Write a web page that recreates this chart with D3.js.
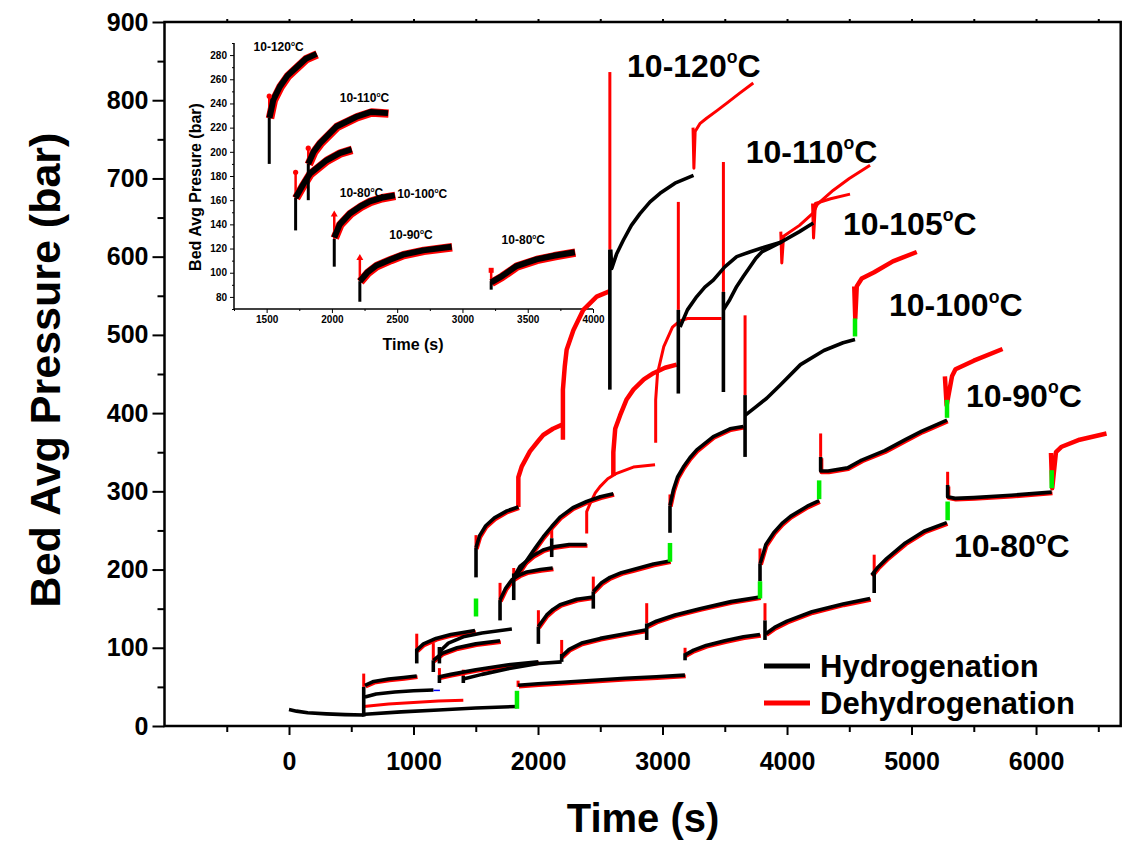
<!DOCTYPE html>
<html>
<head>
<meta charset="utf-8">
<script src="https://cdn.jsdelivr.net/npm/d3@7"></script>
<style>
  body { margin: 0; background: #fff; }
  svg text { font-family: "Liberation Sans", Arial, sans-serif; font-weight: bold; fill: #000; }
</style>
</head>
<body>
<svg id="chart" width="1128" height="843"></svg>
<script>
// ---------------- data: [time (s), bed average pressure (bar)] ----------------

// Hydrogenation traces that run on top of a matching dehydrogenation trace
const hydroOverRed = [
  [[610,52],[680,57],[800,60],[920,62],[1026,64]],
  [[1026,97],[1080,105],[1180,112],[1300,117],[1494,122]],
  [[1160,84],[1230,93],[1350,100],[1500,105],[1695,109]],
  [[1208,63],[1300,66],[1500,72],[1750,78],[2003,82]],
  [[1840,52],[2000,54],[2200,56],[2450,58.5],[2700,61],[2950,63],[3180,65]],
  [[1502,228],[1530,243],[1580,256],[1650,266],[1750,275],[1842,280]],
  [[1805,190],[1855,204],[1910,211],[1962,218],[2040,225],[2123,229],[2250,232],[2391,232]],
  [[1695,161],[1740,176],[1790,187],[1850,193],[1910,197],[2020,200],[2118,202]],
  [[1805,190],[1860,200],[1910,212],[1980,228],[2043,242],[2110,255],[2177,267],[2280,279],[2391,287],[2500,293],[2605,297]],
  [[2003,127],[2070,142],[2120,149],[2177,155],[2311,162],[2445,165]],
  [[2444,172],[2510,183],[2578,190],[2670,196],[2766,200],[2927,207],[3060,211]],
  [[2190,89],[2250,98],[2350,106],[2500,112],[2700,118],[2873,123]],
  [[2873,128],[2950,134],[3100,142],[3300,150],[3550,159],[3783,165]],
  [[3181,91],[3250,97],[3350,103],[3500,109],[3650,114],[3783,117]],
  [[3060,282],[3087,302],[3120,318],[3167,331],[3220,343],[3275,353],[3408,370],[3542,380],[3649,383]],
  [[3785,208],[3830,232],[3893,247],[3960,259],[4028,268],[4163,281],[4258,288]],
  [[3830,118],[3900,126],[4000,134],[4200,146],[4450,156],[4667,163]],
  [[4680,193],[4730,203],[4800,214],[4950,234],[5100,249],[5283,260]],
  [[4270,344],[4270,326],[4330,326],[4487,330],[4600,340],[4785,352],[4950,366],[5083,377],[5285,391]],
  [[5290,308],[5290,293],[5350,291],[5500,292],[5800,295],[6126,299]]
];

// Hydrogenation traces and pressure drops drawn on their own
const hydroBare = [
  [[0,21],[60,19],[150,17],[300,15.5],[450,14.5],[600,14]],
  [[610,15],[900,18],[1200,20.5],[1500,23],[1831,25]],
  [[610,37],[700,41],[850,43.5],[1000,45],[1160,46]],
  [[1208,95],[1280,106],[1400,114],[1550,119],[1790,124]],
  [[1400,60],[1550,66],[1750,73],[2003,80],[2190,82]],
  [[2584,609],[2592,585],[2630,603],[2685,621],[2750,640],[2819,655],[2900,670],[2980,681],[3100,694],[3249,704]],
  [[3141,510],[3200,532],[3275,549],[3340,561],[3408,570],[3500,587],[3596,600],[3700,606],[3797,611],[3944,618],[4100,632],[4211,643]],
  [[3489,532],[3540,545],[3596,562],[3650,575],[3703,587],[3750,598],[3797,606],[3870,612],[3957,619]],
  [[3663,397],[3750,408],[3837,419],[3946,436],[4108,462],[4296,480],[4450,490],[4546,494]],
  [[600,12],[600,50]], [[1026,80],[1026,99]], [[1159,69],[1159,84]], [[1208,80],[1208,101]],
  [[1208,55],[1208,65]], [[1400,55],[1400,64]], [[1502,190],[1502,228]], [[1695,135],[1695,161]],
  [[1805,161],[1805,195]], [[2003,105],[2003,127]], [[2110,216],[2110,240]], [[2190,82],[2190,92]],
  [[2444,150],[2444,172]], [[2577,430],[2577,609]], [[2873,110],[2873,131]], [[3060,247],[3060,282]],
  [[3127,425],[3127,532]], [[3181,84],[3181,93]], [[3489,427],[3489,555]], [[3663,344],[3663,423]],
  [[3783,185],[3783,208]], [[3823,110],[3823,135]], [[4700,170],[4700,197]]
];

// Dehydrogenation traces and pressure spikes (thin)
const dehydroThin = [
  [[600,50],[600,67]], [[1026,99],[1026,118]], [[1159,84],[1159,106]], [[1208,65],[1208,74]],
  [[1400,64],[1400,72]], [[1502,228],[1502,244]], [[1695,161],[1695,183]], [[1805,187],[1805,202]],
  [[1840,50],[1840,58]], [[2003,127],[2003,148]], [[2110,240],[2110,251]], [[2190,88],[2190,110]],
  [[2444,172],[2444,191]], [[2577,609],[2577,836]], [[2873,131],[2873,157]], [[3060,282],[3060,296]],
  [[3127,532],[3127,670]], [[3181,93],[3181,100]], [[3489,555],[3489,721]], [[3663,423],[3663,525]],
  [[3783,208],[3783,227]], [[3823,135],[3823,157]], [[4270,344],[4270,374]], [[4700,197],[4700,219]],
  [[5290,308],[5290,325]],
  [[600,25],[800,28],[1000,30],[1200,32],[1400,33]],
  [[2391,246],[2391,274],[2420,285],[2460,298],[2498,306],[2560,316],[2632,323],[2766,331],[2940,334]],
  [[2945,362],[2945,417],[2960,451],[3010,485],[3080,510],[3140,518],[3200,521],[3474,521]],
  [[3245,765],[3252,713],[3262,760],[3300,770],[3354,777],[3440,787],[3514,796],[3620,809],[3729,822]],
  [[3950,632],[3958,592],[3972,626],[4100,640],[4211,656],[4240,666],[4265,670],[4372,685],[4500,700],[4667,717]],
  [[4205,668],[4213,624],[4228,668],[4350,674],[4506,680]]
];

// Dehydrogenation traces (heavy)
const dehydroThick = [
  [[1842,280],[1842,318],[1870,332],[1935,351],[2000,364],[2042,372],[2120,380],[2190,385]],
  [[2200,366],[2200,430],[2215,460],[2230,481],[2284,506],[2364,532],[2471,549],[2577,556]],
  [[2605,320],[2605,350],[2620,380],[2659,397],[2710,417],[2766,430],[2850,443],[2927,451],[3020,458],[3114,462]],
  [[4540,562],[4548,521],[4560,562],[4600,572],[4700,580],[4850,594],[5042,606]],
  [[5268,447],[5282,410],[5325,447],[5353,456],[5500,467],[5731,482]],
  [[6120,349],[6130,304],[6160,350],[6206,357],[6350,366],[6566,374]]
];

// Switch-over segments between hydrogenation and dehydrogenation
const switchMarks = [
  [[1831,22],[1831,45]], [[1502,140],[1502,163]], [[3060,210],[3060,234]], [[3783,163],[3783,185]],
  [[4258,290],[4258,314]], [[4546,498],[4546,521]], [[5285,394],[5285,417]], [[5290,263],[5290,287]],
  [[6126,304],[6126,327]]
];
const ventMark = [[[1160,45.5],[1212,45.5]]];

// Run labels: temperature range and anchor [time, pressure]
const runNames = ["10-120", "10-110", "10-105", "10-100", "10-90", "10-80"];
const runAnchors = [[2715,830], [3668,720], [4450,628], [4819,524], [5438,408], [5341,216]];

const xTickValues = [0,1000,2000,3000,4000,5000,6000];
const xMinorValues = [-500,500,1500,2500,3500,4500,5500,6500];
const yTickValues = [0,100,200,300,400,500,600,700,800,900];
const yMinorValues = [50,150,250,350,450,550,650,750,850];
const legendNames = ["Hydrogenation", "Dehydrogenation"];

// Inset: close-up of the first absorption step of each run
const insetCurves = [
  [[1522,228],[1551,243],[1602,254],[1660,263],[1730,270],[1800,277],[1883,281]],
  [[1819,190],[1860,200],[1908,207],[2036,221],[2189,229],[2300,233],[2430,232]],
  [[1722,162],[1780,173],[1832,182],[1959,193],[2060,199],[2151,202]],
  [[2018,129],[2060,140],[2138,149],[2220,155],[2291,159],[2380,162],[2482,164]],
  [[2214,93],[2270,100],[2342,106],[2450,111],[2546,115],[2700,118.5],[2917,121.5]],
  [[3220,92],[3300,97],[3414,105.5],[3567,111],[3700,114],[3861,117]]
];
const insetDrops = [
  [[1520,190],[1520,228]], [[1722,135],[1722,162]], [[1819,160],[1819,190]],
  [[2018,105],[2018,128]], [[2214,76],[2214,93]], [[3220,86],[3220,93]]
];
const insetSpikes = [
  [[1520,228],[1520,246]], [[1722,162],[1722,183]], [[1819,188],[1819,203]],
  [[2018,128],[2018,149]], [[2214,93],[2214,113]], [[3220,92],[3220,102]]
];
const insetCircleTops = [[1520,246],[1722,183],[1819,203]];
const insetArrowTops = [[2018,149],[2214,113]];
const insetSquareTops = [[3220,102]];
const insetNames = ["10-120", "10-110", "10-80", "10-100", "10-90", "10-80"];
const insetAnchors = [[1400,283.5], [2060,241], [2060,163], [2500,161.5], [2440,128], [3300,124]];
const insetXTicks = [1500,2000,2500,3000,3500,4000];
const insetXMinor = [1250,1750,2250,2750,3250,3750];
const insetYTicks = [80,100,120,140,160,180,200,220,240,260,280];
const insetYMinor = [70,90,110,130,150,170,190,210,230,250,270,290];

// ---------------- drawing ----------------
const svg = d3.select("#chart");
const RED = "#ff0000", BLACK = "#000000", GREEN = "#00ee00", BLUE = "#0000ff";
const plain = d3.format("d");

const x = d3.scaleLinear().domain([-1000, 6680]).range([164.5, 1120.7]);
const y = d3.scaleLinear().domain([0, 900]).range([726, 22]);
const line = d3.line().x(d => x(d[0])).y(d => y(d[1]));

function traces(g, data, lineGen, color, width, dx = 0, dy = 0) {
  g.append("g").attr("transform", `translate(${dx},${dy})`)
    .selectAll("path").data(data).join("path")
    .attr("d", lineGen)
    .attr("fill", "none")
    .attr("stroke", color)
    .attr("stroke-width", width)
    .attr("stroke-linejoin", "round")
    .attr("stroke-linecap", "butt");
}

function tempText(g, px, py, size, name) {
  const t = g.append("text").attr("x", px).attr("y", py).attr("font-size", size);
  t.append("tspan").text(name);
  t.append("tspan").attr("font-size", size * 0.55).attr("dy", -size * 0.42).text("o");
  t.append("tspan").attr("dy", size * 0.42).text("C");
}

// axes (main)
const axisG = svg.append("g");
const yAxis = axisG.append("g").attr("transform", `translate(${x.range()[0]},0)`)
  .call(d3.axisLeft(y).tickValues(yTickValues).tickFormat(plain).tickSize(12).tickPadding(4));
yAxis.select(".domain").remove();
yAxis.selectAll("text").attr("font-size", 25).attr("font-family", null);
yAxis.selectAll("line").attr("stroke-width", 2);
const yMinor = axisG.append("g").attr("transform", `translate(${x.range()[0]},0)`)
  .call(d3.axisLeft(y).tickValues(yMinorValues).tickSize(7).tickFormat(""));
yMinor.select(".domain").remove();
yMinor.selectAll("line").attr("stroke-width", 2);

const xAxis = axisG.append("g").attr("transform", `translate(0,${y(0)})`)
  .call(d3.axisBottom(x).tickValues(xTickValues).tickFormat(plain).tickSize(9).tickPadding(17));
xAxis.select(".domain").remove();
xAxis.selectAll("text").attr("font-size", 25).attr("font-family", null);
xAxis.selectAll("line").attr("stroke-width", 2);
const xMinor = axisG.append("g").attr("transform", `translate(0,${y(0)})`)
  .call(d3.axisBottom(x).tickValues(xMinorValues).tickSize(6).tickFormat(""));
xMinor.select(".domain").remove();
xMinor.selectAll("line").attr("stroke-width", 2);
const xTop = axisG.append("g").attr("transform", `translate(0,${y(900)})`)
  .call(d3.axisTop(x).tickValues(xMinorValues.concat(xTickValues)).tickSize(3).tickFormat(""));
xTop.select(".domain").remove();
xTop.selectAll("line").attr("stroke-width", 2);

// frame
svg.append("rect")
  .attr("x", x.range()[0]).attr("y", y(900))
  .attr("width", x.range()[1] - x.range()[0]).attr("height", y(0) - y(900))
  .attr("fill", "none").attr("stroke", BLACK).attr("stroke-width", 2.5);

// axis titles
svg.append("text").attr("x", 643).attr("y", 832).attr("text-anchor", "middle")
  .attr("font-size", 40).text("Time (s)");
svg.append("text").attr("transform", "translate(60,370) rotate(-90)").attr("text-anchor", "middle")
  .attr("font-size", 43).text("Bed Avg Pressure (bar)");

// ---------------- inset ----------------
const ix = d3.scaleLinear().domain([1250, 4000]).range([234, 593]);
const iy = d3.scaleLinear().domain([70, 290]).range([309, 43]);
const iline = d3.line().x(d => ix(d[0])).y(d => iy(d[1]));
const inset = svg.append("g");

const iyAxis = inset.append("g").attr("transform", `translate(${ix(1250)},0)`)
  .call(d3.axisLeft(iy).tickValues(insetYTicks).tickFormat(plain).tickSize(4).tickPadding(3));
iyAxis.select(".domain").attr("stroke-width", 1.5).attr("d", `M0,${iy(290)}V${iy(70)}`);
iyAxis.selectAll("text").attr("font-size", 10).attr("font-family", null);
inset.append("g").attr("transform", `translate(${ix(1250)},0)`)
  .call(d3.axisLeft(iy).tickValues(insetYMinor).tickSize(2).tickFormat(""))
  .select(".domain").remove();
const ixAxis = inset.append("g").attr("transform", `translate(0,${iy(70)})`)
  .call(d3.axisBottom(ix).tickValues(insetXTicks).tickFormat(plain).tickSize(4).tickPadding(3));
ixAxis.select(".domain").attr("stroke-width", 1.5).attr("d", `M${ix(1250)},0H${ix(4000)}`);
ixAxis.selectAll("text").attr("font-size", 10).attr("font-family", null);
inset.append("g").attr("transform", `translate(0,${iy(70)})`)
  .call(d3.axisBottom(ix).tickValues(insetXMinor).tickSize(2).tickFormat(""))
  .select(".domain").remove();
inset.append("text").attr("transform", "translate(201,187) rotate(-90)").attr("text-anchor", "middle")
  .attr("font-size", 16).text("Bed Avg Presure (bar)");
inset.append("text").attr("x", 413).attr("y", 350).attr("text-anchor", "middle")
  .attr("font-size", 16).text("Time (s)");

// ---------------- main traces ----------------
const plot = svg.append("g");
traces(plot, dehydroThin, line, RED, 3);
traces(plot, dehydroThick, line, RED, 4.5);
traces(plot, hydroOverRed, line, RED, 3.8, 0.8, 1.3);
traces(plot, hydroOverRed, line, BLACK, 3.6);
traces(plot, hydroBare, line, BLACK, 3.6);
traces(plot, switchMarks, line, GREEN, 4.5);
traces(plot, ventMark, line, BLUE, 1.5);

// inset traces
traces(inset, insetSpikes, iline, RED, 2.5);
traces(inset, insetCurves, iline, RED, 8.5, 0.5, 0.5);
traces(inset, insetCurves, iline, BLACK, 6);
traces(inset, insetDrops, iline, BLACK, 3);
inset.selectAll("circle.top").data(insetCircleTops).join("circle")
  .attr("cx", d => ix(d[0])).attr("cy", d => iy(d[1])).attr("r", 2.6).attr("fill", RED);
inset.selectAll("path.arrow").data(insetArrowTops).join("path")
  .attr("d", d => `M${ix(d[0])},${iy(d[1]) - 3}l-3.5,6h7z`).attr("fill", RED);
inset.selectAll("rect.top").data(insetSquareTops).join("rect")
  .attr("x", d => ix(d[0]) - 2.5).attr("y", d => iy(d[1]) - 2.5).attr("width", 5).attr("height", 5).attr("fill", RED);

// labels
runNames.forEach((n, i) => tempText(svg, x(runAnchors[i][0]), y(runAnchors[i][1]), 32, n));
insetNames.forEach((n, i) => tempText(inset, ix(insetAnchors[i][0]), iy(insetAnchors[i][1]), 12, n));

// legend
const legend = svg.append("g");
legendNames.forEach((n, i) => {
  const ly = 666 + i * 37;
  legend.append("line").attr("x1", 764).attr("x2", 810).attr("y1", ly).attr("y2", ly)
    .attr("stroke", i === 0 ? BLACK : RED).attr("stroke-width", 5);
  legend.append("text").attr("x", 820).attr("y", ly + 11).attr("font-size", 31).text(n);
});
</script>
</body>
</html>
